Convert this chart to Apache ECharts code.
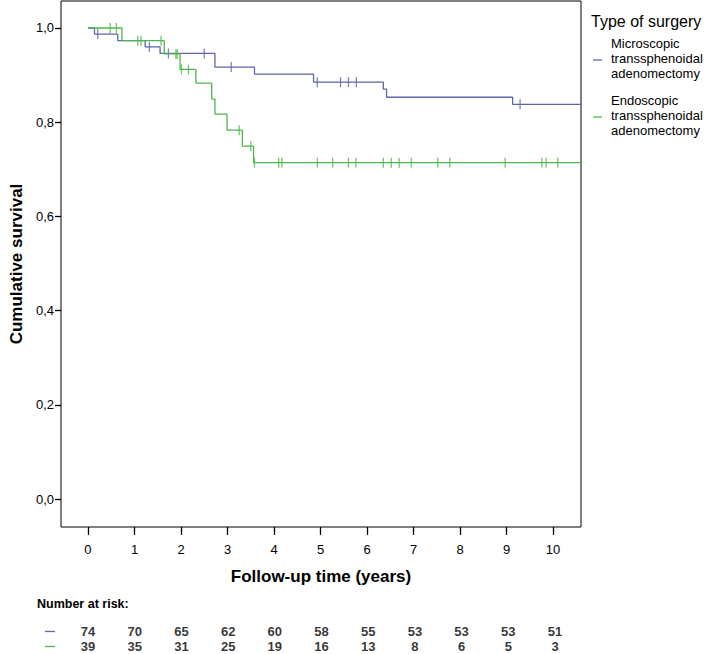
<!DOCTYPE html>
<html>
<head>
<meta charset="utf-8">
<script src="https://cdn.jsdelivr.net/npm/echarts@6/dist/echarts.min.js"></script>
<style>
html,body{margin:0;padding:0;background:#fff;}
#chart{width:709px;height:654px;}
</style>
</head>
<body>
<div id="chart"></div>
<script>
// ---- Data ----
const seriesNames = ['Microscopic transsphenoidal adenomectomy', 'Endoscopic transsphenoidal adenomectomy'];

// Microscopic (blue): event times and survival after each event
const blueTimes = [0, 0.14, 0.64, 1.23, 1.55, 2.73, 3.58, 4.85, 6.35, 6.42, 9.13];
const blueSurv  = [1.0, 0.987, 0.973, 0.960, 0.946, 0.917, 0.902, 0.885, 0.870, 0.853, 0.838];
const blueCensor = [0.21, 1.32, 1.73, 2.5, 3.08, 4.93, 5.43, 5.6, 5.77, 9.29];

// Endoscopic (green)
const greenTimes = [0, 0.73, 1.64, 1.98, 2.32, 2.66, 2.73, 2.99, 3.32, 3.56];
const greenSurv  = [1.0, 0.973, 0.945, 0.912, 0.883, 0.849, 0.817, 0.783, 0.749, 0.714];
const greenCensor = [0.48, 0.61, 1.07, 1.14, 1.57, 1.89, 1.92, 2.01, 2.16, 3.25, 3.5, 3.58, 4.10, 4.17, 4.93, 5.26, 5.6, 5.76, 6.35, 6.52, 6.69, 6.95, 7.52, 7.78, 8.97, 9.76, 9.85, 10.1];

// Axis ticks
const xTicks = [0, 1, 2, 3, 4, 5, 6, 7, 8, 9, 10];
const yTicks = [0, 0.2, 0.4, 0.6, 0.8, 1.0];

// Number at risk
const riskTimes = [0, 1, 2, 3, 4, 5, 6, 7, 8, 9, 10];
const blueRisk  = [74, 70, 65, 62, 60, 58, 55, 53, 53, 53, 51];
const greenRisk = [39, 35, 31, 25, 19, 16, 13, 8, 6, 5, 3];

// ---- Styling ----
const BLUE = '#5c66ab';
const GREEN = '#4fb64f';
const FONT = '"Liberation Sans", Arial, Helvetica, sans-serif';
const X_MIN = -0.58, X_MAX = 10.6;
const Y_MIN = -0.0594, Y_MAX = 1.0573;

function stepLine(times, surv, endT) {
  const pts = times.map((t, i) => [t, surv[i]]);
  pts.push([endT, surv[surv.length - 1]]);
  return pts;
}
function survAt(times, surv, t) {
  let s = surv[0];
  for (let i = 0; i < times.length; i++) { if (times[i] <= t) s = surv[i]; }
  return s;
}
function censorPts(ct, times, surv) {
  return ct.map(t => [t, survAt(times, surv, t)]);
}

const chart = echarts.init(document.getElementById('chart'), null, {renderer: 'svg'});

const option = {
  backgroundColor: '#fff',
  animation: false,
  textStyle: {fontFamily: FONT},
  grid: [
    {left: 59, top: 1, width: 522, height: 526, show: true, borderColor: '#000', borderWidth: 1, backgroundColor: '#fff'},
    {left: 59, top: 624, width: 522, height: 30}
  ],
  xAxis: [
    {
      gridIndex: 0, type: 'value', min: X_MIN, max: X_MAX, position: 'bottom',
      name: 'Follow-up time (years)', nameLocation: 'middle', nameGap: 41,
      nameTextStyle: {fontSize: 17, fontWeight: 'bold', color: '#000', fontFamily: FONT},
      axisLine: {show: false, onZero: false},
      axisTick: {show: true, customValues: xTicks, length: 8, lineStyle: {color: '#000', width: 1.3}},
      axisLabel: {customValues: xTicks, margin: 16, fontSize: 13, color: '#000', fontFamily: FONT,
                  formatter: v => String(Math.round(v))},
      splitLine: {show: false}
    },
    {
      gridIndex: 1, type: 'value', min: X_MIN, max: X_MAX, show: false
    }
  ],
  yAxis: [
    {
      gridIndex: 0, type: 'value', min: Y_MIN, max: Y_MAX, position: 'left',
      name: 'Cumulative survival', nameLocation: 'middle', nameGap: 36,
      nameTextStyle: {fontSize: 17, fontWeight: 'bold', color: '#000', fontFamily: FONT},
      axisLine: {show: false, onZero: false},
      axisTick: {show: true, customValues: yTicks, length: 6, lineStyle: {color: '#000', width: 1.3}},
      axisLabel: {customValues: yTicks, margin: 7, fontSize: 13, color: '#000', fontFamily: FONT,
                  formatter: v => v.toFixed(1).replace('.', ',')},
      splitLine: {show: false}
    },
    {
      gridIndex: 1, type: 'category', data: ['blue', 'green'], inverse: true, show: false,
      boundaryGap: true
    }
  ],
  series: [
    {
      name: seriesNames[0], type: 'line', step: 'end', xAxisIndex: 0, yAxisIndex: 0,
      data: stepLine(blueTimes, blueSurv, X_MAX), showSymbol: false, symbol: 'none',
      lineStyle: {color: BLUE, width: 1.3}, z: 2
    },
    {
      name: seriesNames[0] + ' censored', type: 'scatter', xAxisIndex: 0, yAxisIndex: 0,
      data: censorPts(blueCensor, blueTimes, blueSurv),
      symbol: 'rect', symbolSize: [1.3, 10], itemStyle: {color: BLUE}, z: 2
    },
    {
      name: seriesNames[1], type: 'line', step: 'end', xAxisIndex: 0, yAxisIndex: 0,
      data: stepLine(greenTimes, greenSurv, X_MAX), showSymbol: false, symbol: 'none',
      lineStyle: {color: GREEN, width: 1.3}, z: 3
    },
    {
      name: seriesNames[1] + ' censored', type: 'scatter', xAxisIndex: 0, yAxisIndex: 0,
      data: censorPts(greenCensor, greenTimes, greenSurv),
      symbol: 'rect', symbolSize: [1.3, 10], itemStyle: {color: GREEN}, z: 3
    },
    {
      name: 'risk', type: 'scatter', xAxisIndex: 1, yAxisIndex: 1,
      symbolSize: 0.01, itemStyle: {color: 'rgba(0,0,0,0)'},
      data: riskTimes.map((t, i) => [t, 'blue', blueRisk[i]])
        .concat(riskTimes.map((t, i) => [t, 'green', greenRisk[i]])),
      label: {
        show: true, position: 'inside', offset: [2, 0],
        formatter: p => String(p.value[2]),
        fontSize: 13, fontWeight: 'bold', color: '#000', fontFamily: FONT
      }
    }
  ],
  graphic: [
    {type: 'text', left: 591, top: 13, style: {text: 'Type of surgery', font: '16px ' + FONT, fill: '#000'}},
    {type: 'line', shape: {x1: 593, y1: 60, x2: 602, y2: 60}, style: {stroke: BLUE, lineWidth: 1.3}},
    {type: 'text', left: 611, top: 36, style: {text: 'Microscopic\ntranssphenoidal\nadenomectomy', font: '13px ' + FONT, lineHeight: 14.8, fill: '#000'}},
    {type: 'line', shape: {x1: 593, y1: 117, x2: 602, y2: 117}, style: {stroke: GREEN, lineWidth: 1.3}},
    {type: 'text', left: 611, top: 93, style: {text: 'Endoscopic\ntranssphenoidal\nadenomectomy', font: '13px ' + FONT, lineHeight: 14.8, fill: '#000'}},
    {type: 'text', left: 37, top: 597, style: {text: 'Number at risk:', font: 'bold 12.5px ' + FONT, fill: '#000'}},
    {type: 'line', shape: {x1: 45, y1: 631.5, x2: 55, y2: 631.5}, style: {stroke: BLUE, lineWidth: 1.3}},
    {type: 'line', shape: {x1: 45, y1: 646.5, x2: 55, y2: 646.5}, style: {stroke: GREEN, lineWidth: 1.3}}
  ]
};
chart.setOption(option);
</script>
</body>
</html>
